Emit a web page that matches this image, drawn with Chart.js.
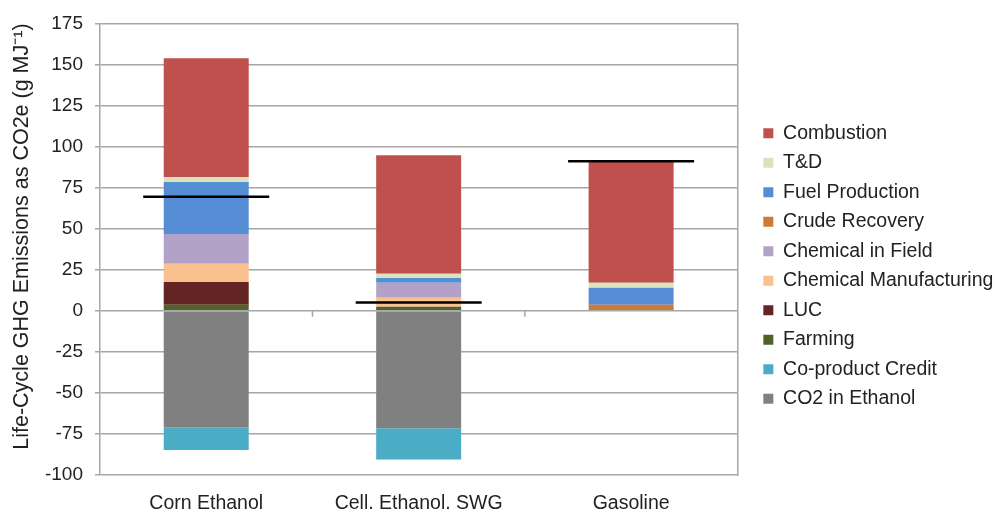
<!DOCTYPE html>
<html>
<head>
<meta charset="utf-8">
<script src="https://cdn.jsdelivr.net/npm/chart.js@4/dist/chart.umd.min.js"></script>
<style>
  html, body { margin: 0; padding: 0; background: #fff; }
  #wrap { width: 993px; height: 511px; }
</style>
</head>
<body>
<div id="wrap"><canvas id="ghgChart"></canvas></div>
<script>
// categories
const categories = ['Corn Ethanol', 'Cell. Ethanol. SWG', 'Gasoline'];

// series values (g CO2e per MJ)
const co2InEthanol = [-71, -71.5, 0];
const coproductCredit = [-13.8, -19, 0];
const farming = [3.6, 2.4, 0];
const luc = [14, 0, 0];
const chemicalManufacturing = [11, 5.5, 0];
const chemicalInField = [18.2, 9.1, 0];
const crudeRecovery = [0, 0, 3.6];
const fuelProduction = [31.6, 3, 10.4];
const tAndD = [3, 2.5, 3];
const combustion = [72.4, 72.2, 74];

// net life-cycle value (black bar)
const netEmissions = [69.4, 5, 91];

// y axis ticks
const yMin = -100;
const yMax = 175;
const yStep = 25;

const FONT = "'Liberation Sans', Arial, sans-serif";
const TEXT = '#222222';
const GRID = '#a6a6a6';

// small tick marks on the zero line between categories
const categoryTicks = {
  id: 'categoryTicks',
  beforeDatasetsDraw(chart) {
    const { ctx, scales } = chart;
    const x = scales.x, y = scales.y;
    const y0 = y.getPixelForValue(0);
    ctx.save();
    ctx.strokeStyle = GRID;
    ctx.lineWidth = 1.5;
    for (let i = 0; i < categories.length - 1; i++) {
      const xb = (x.getPixelForValue(i) + x.getPixelForValue(i + 1)) / 2;
      ctx.beginPath();
      ctx.moveTo(xb, y0);
      ctx.lineTo(xb, y0 + 6);
      ctx.stroke();
    }
    ctx.restore();
  }
};

// let the legend run to the canvas edge so long labels aren't clipped
const wideLegend = {
  id: 'wideLegend',
  afterLayout(chart) {
    const lg = chart.legend;
    if (!lg) return;
    lg.right = chart.width;
    lg.width = lg.right - lg.left;
  }
};

function bar(label, data, color) {
  return { label, data, backgroundColor: color, borderWidth: 0, stack: 'ghg' };
}

const ctx = document.getElementById('ghgChart').getContext('2d');
new Chart(ctx, {
  type: 'bar',
  data: {
    labels: categories,
    datasets: [
      bar('CO2 in Ethanol', co2InEthanol, '#808080'),
      bar('Co-product Credit', coproductCredit, '#4BACC6'),
      bar('Farming', farming, '#4F6228'),
      bar('LUC', luc, '#632523'),
      bar('Chemical Manufacturing', chemicalManufacturing, '#FAC090'),
      bar('Chemical in Field', chemicalInField, '#B3A2C7'),
      bar('Crude Recovery', crudeRecovery, '#CC7A36'),
      bar('Fuel Production', fuelProduction, '#558ED5'),
      bar('T&D', tAndD, '#D7E4BD'),
      bar('Combustion', combustion, '#C0504D'),
      {
        type: 'line',
        label: 'Net',
        data: netEmissions,
        stack: 'net',
        order: -1,
        showLine: false,
        pointStyle: 'line',
        pointRadius: 63,
        pointHoverRadius: 63,
        pointBorderWidth: 2.5,
        pointBorderColor: '#000',
        borderColor: '#000'
      }
    ]
  },
  options: {
    responsive: true,
    maintainAspectRatio: false,
    animation: false,
    layout: { autoPadding: false, padding: { top: 21, right: 89, left: 0, bottom: 0 } },
    datasets: {
      bar: { barPercentage: 0.4, categoryPercentage: 1 }
    },
    scales: {
      x: {
        stacked: true,
        grid: { display: false, drawTicks: false },
        border: { display: false },
        ticks: { color: TEXT, font: { family: FONT, size: 19.5 }, padding: 17 },
        afterFit(scale) { scale.height = 36; }
      },
      y: {
        stacked: true,
        min: yMin,
        max: yMax,
        ticks: { stepSize: yStep, color: TEXT, font: { family: FONT, size: 19 }, padding: 12 },
        grid: { color: GRID, lineWidth: 1.5, tickLength: 5 },
        border: { color: GRID, width: 1.5 },
        title: {
          display: true,
          text: 'Life-Cycle GHG Emissions as CO2e (g MJ\u207B\u00B9)',
          align: 'end',
          color: TEXT,
          font: { family: FONT, size: 21.5 },
          padding: { top: 9, bottom: 0 }
        },
        afterFit(scale) { scale.width = 100; }
      },
      y2: {
        // only here for the right-hand frame line and the gap before the legend
        position: 'right',
        display: true,
        grid: { display: false, drawTicks: false },
        ticks: { display: false },
        border: { display: true, color: GRID, width: 1.5 },
        afterFit(scale) { scale.width = 16; }
      }
    },
    plugins: {
      legend: {
        position: 'right',
        reverse: true,
        labels: {
          boxWidth: 10,
          boxHeight: 10,
          padding: 10,
          color: TEXT,
          font: { family: FONT, size: 19.5 },
          filter: item => item.text !== 'Net'
        }
      },
      tooltip: { enabled: false }
    }
  },
  plugins: [categoryTicks, wideLegend]
});
</script>
</body>
</html>
